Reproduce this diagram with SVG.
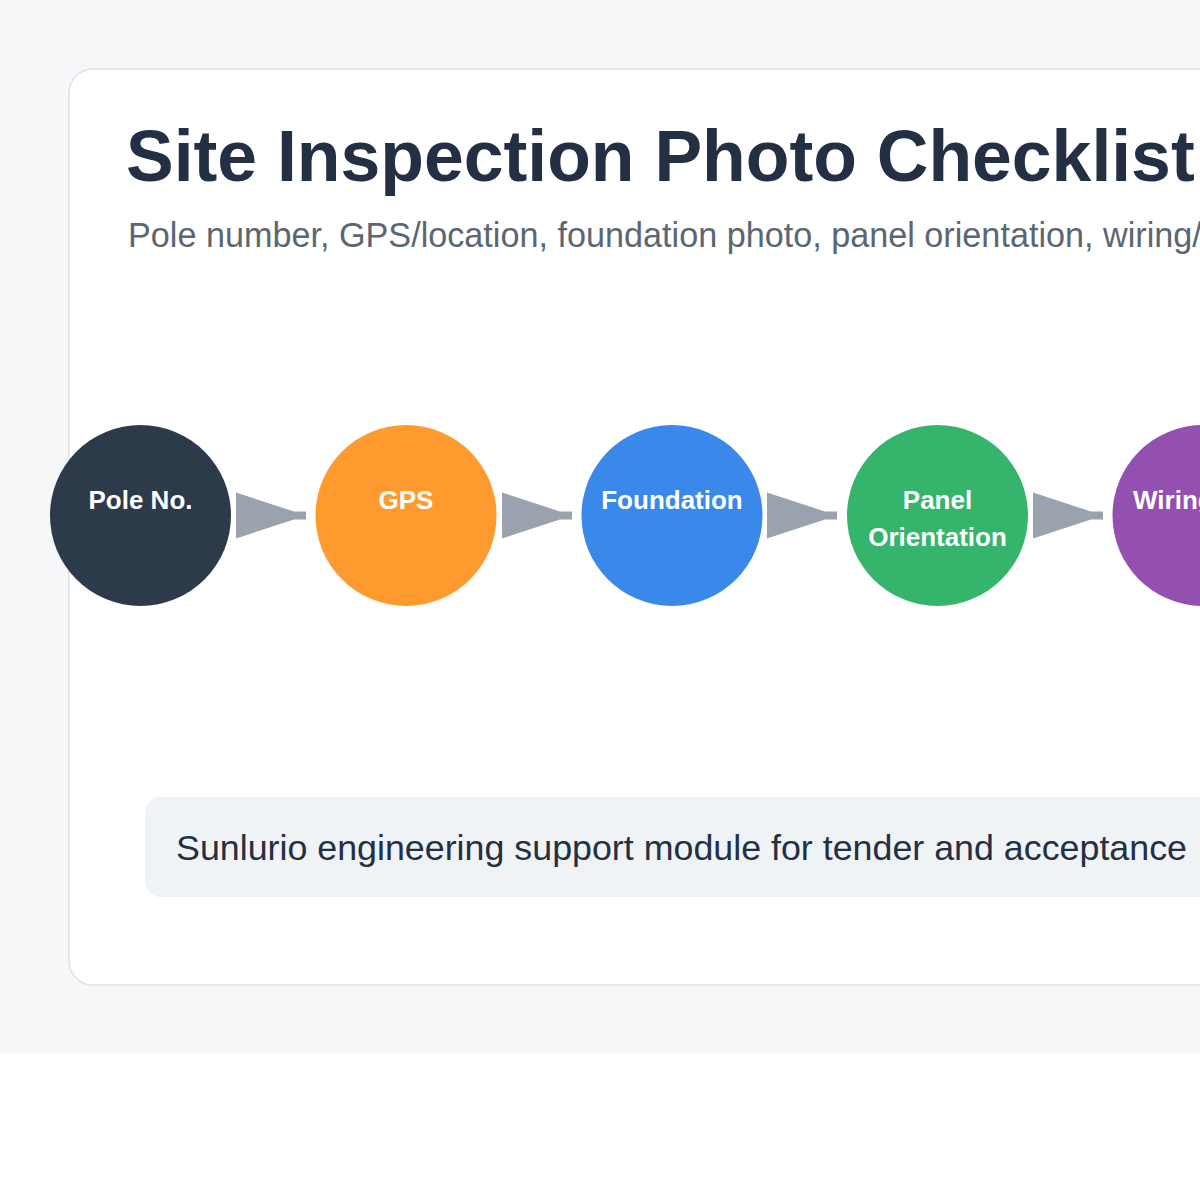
<svg xmlns="http://www.w3.org/2000/svg" width="1200" height="1200" viewBox="0 0 1200 1200">
<style>
.title{font-family:"Liberation Sans",Arial,sans-serif;font-weight:bold;font-size:71.5px;fill:#233044}
.sub{font-family:"Liberation Sans",Arial,sans-serif;font-size:34.2px;fill:#5b6672}
.note{font-family:"Liberation Sans",Arial,sans-serif;font-size:35.8px;fill:#233044}
.lbl{font-family:"Liberation Sans",Arial,sans-serif;font-weight:bold;font-size:26px;fill:#ffffff;text-anchor:middle}
.arrow{fill:#9aa3ad}
</style>
<rect x="0" y="0" width="1200" height="1200" fill="#ffffff"/>
<rect x="0" y="0" width="1200" height="1054" fill="#f5f7f9"/>
<rect x="69" y="69" width="1200" height="916" rx="24" ry="24" fill="#ffffff" stroke="#dde1e8" stroke-width="1.5"/>
<text class="title" x="126" y="181">Site Inspection Photo Checklist</text>
<text class="sub" x="128" y="247">Pole number, GPS/location, foundation photo, panel orientation, wiring/</text>
<g id="connectors">
<path class="arrow" d="M236,492.5 L294,511.5 L306,511.5 L306,519.5 L294,519.5 L236,538.5 Z"/>
<path class="arrow" d="M502,492.5 L560,511.5 L572,511.5 L572,519.5 L560,519.5 L502,538.5 Z"/>
<path class="arrow" d="M767,492.5 L825,511.5 L837,511.5 L837,519.5 L825,519.5 L767,538.5 Z"/>
<path class="arrow" d="M1033,492.5 L1091,511.5 L1103,511.5 L1103,519.5 L1091,519.5 L1033,538.5 Z"/>
</g>
<g id="node-pole">
<circle cx="140.5" cy="515.5" r="90.5" fill="#2d3a4a"/>
<text class="lbl" x="140.5" y="509">Pole No.</text>
</g>
<g id="node-gps">
<circle cx="406" cy="515.5" r="90.5" fill="#ff9a2f"/>
<text class="lbl" x="406" y="509">GPS</text>
</g>
<g id="node-foundation">
<circle cx="672" cy="515.5" r="90.5" fill="#3b88eb"/>
<text class="lbl" x="672" y="509">Foundation</text>
</g>
<g id="node-panel">
<circle cx="937.5" cy="515.5" r="90.5" fill="#35b46b"/>
<text class="lbl" x="937.5" y="509">Panel</text>
<text class="lbl" x="937.5" y="546">Orientation</text>
</g>
<g id="node-wiring">
<circle cx="1203" cy="515.5" r="90.5" fill="#9450b0"/>
<text class="lbl" x="1133" y="509" style="text-anchor:start">Wiring</text>
</g>
<g id="note">
<rect x="145" y="797" width="1100" height="100" rx="16" ry="16" fill="#eff3f6"/>
<text class="note" x="176" y="860">Sunlurio engineering support module for tender and acceptance</text>
</g>
</svg>
